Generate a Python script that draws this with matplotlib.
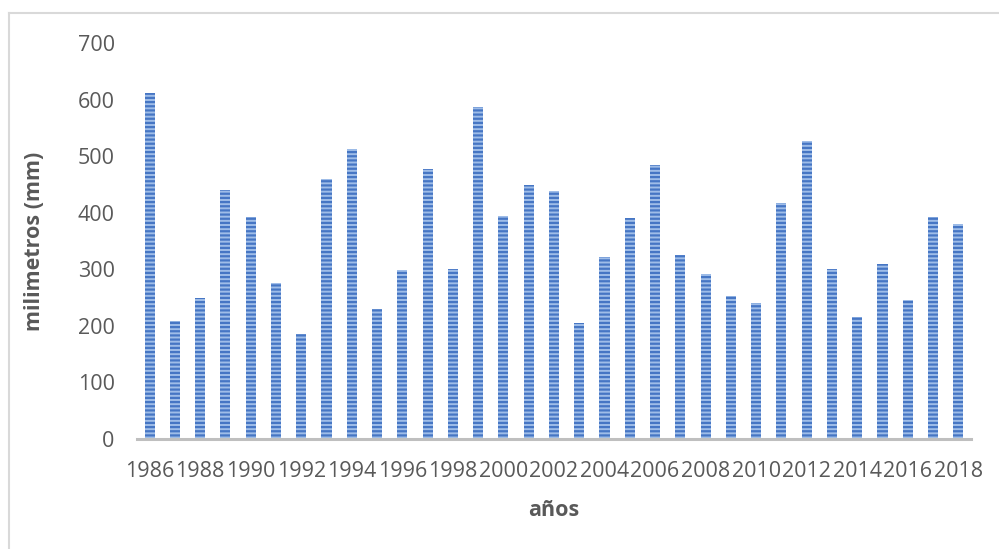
import matplotlib.pyplot as plt
from matplotlib.lines import Line2D

# annual rainfall (mm), 1986-2018
years = list(range(1986, 2019))
rain_mm = [611, 209, 249, 441, 393, 276, 186, 459, 513, 229,
           298, 477, 300, 587, 394, 449, 438, 205, 321, 390,
           484, 326, 292, 253, 240, 418, 527, 300, 215, 309,
           246, 392, 380]
y_ticks = [0, 100, 200, 300, 400, 500, 600, 700]

text_gray = "#595959"
plt.rcParams['font.family'] = ['Open Sans', 'DejaVu Sans']
plt.rcParams['hatch.linewidth'] = 1.6

fig = plt.figure(figsize=(9.99, 5.49), dpi=100)
ax = fig.add_axes([0.1371, 0.2004, 0.8348, 0.7213])

pos = list(range(len(years)))
ax.bar(pos, rain_mm, width=0.4, color="#9FBDE8", edgecolor="#4676C4",
       linewidth=0, hatch="----", zorder=2)

ax.set_xlim(-0.5, len(years) - 0.5)
ax.set_ylim(0, 700)
ax.set_yticks(y_ticks)
ax.set_yticklabels([str(v) for v in y_ticks])
ax.set_xticks(pos[::2])
ax.set_xticklabels([str(y) for y in years[::2]])

ax.tick_params(axis="both", length=0, labelsize=15.5, labelcolor=text_gray)
ax.tick_params(axis="y", pad=16)
ax.tick_params(axis="x", pad=16)

for side in ["top", "right", "left"]:
    ax.spines[side].set_visible(False)
ax.spines["bottom"].set_color("#BFBFBF")
ax.spines["bottom"].set_linewidth(2.2)

ax.set_ylabel("milimetros (mm)", fontsize=15.5, fontweight="bold",
              color=text_gray)
ax.set_xlabel("años", fontsize=15.5, fontweight="bold", color=text_gray,
              labelpad=13)
ax.yaxis.set_label_coords(-0.11, 0.5)

# chart-area border (left and top edges only inside the frame)
fig.add_artist(Line2D([8.5 / 999, 8.5 / 999], [0, 1 - 13 / 549],
                      color="#D9D9D9", linewidth=1.5))
fig.add_artist(Line2D([8.5 / 999, 1], [1 - 13 / 549, 1 - 13 / 549],
                      color="#D9D9D9", linewidth=1.5))

fig.savefig("out.png", dpi=100)
